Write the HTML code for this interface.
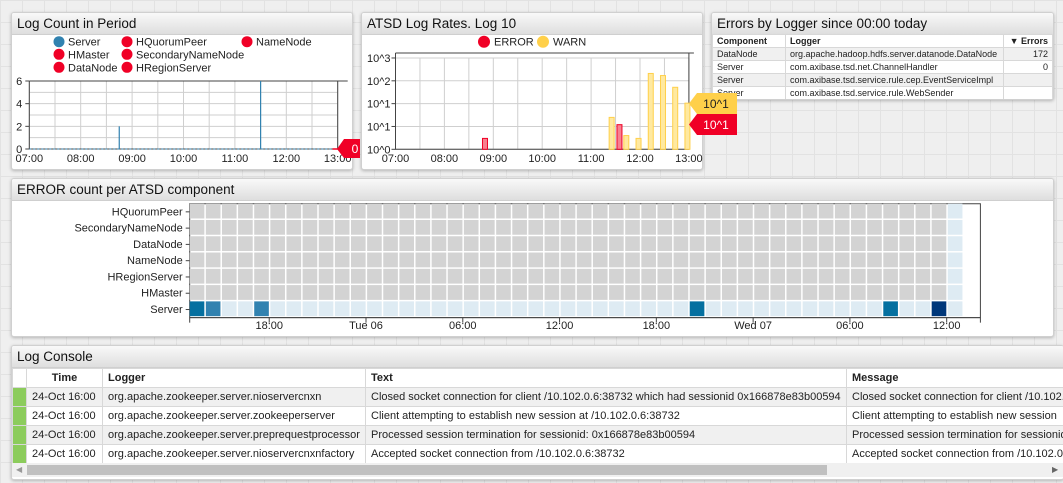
<!DOCTYPE html>
<html><head><meta charset="utf-8">
<style>
body{margin:0;width:1063px;height:483px;overflow:hidden;background:#efefef;font-family:"Liberation Sans",sans-serif;position:relative}
.bg{position:absolute;left:0;top:0;width:1063px;height:483px;background-image:linear-gradient(#e2e2e2 1px,transparent 1px),linear-gradient(90deg,#e2e2e2 1px,transparent 1px);background-size:22px 22px}
.panel{position:absolute;background:#fff;border:1px solid #d0d0d0;border-radius:3px;box-shadow:0 1px 3px rgba(0,0,0,.25);overflow:hidden}
.hdr{height:21px;background:linear-gradient(#f9f9f9,#dedede);border-bottom:1px solid #cfcfcf;font-size:13.5px;line-height:21px;padding-left:5px;color:#111}
table{border-collapse:collapse;position:absolute}
.et td{font-size:9px;height:12px;padding:0 4px;border:1px solid #d8d8d8;color:#222;white-space:nowrap}
.lt td{font-size:11px;height:18px;padding:0 5px;border:1px solid #d8d8d8;color:#222;white-space:nowrap}
svg text{font-family:"Liberation Sans",sans-serif}
</style></head><body>
<div class="bg"></div>
<div class="panel" style="left:11px;top:12px;width:340px;height:156px"><div class="hdr">Log Count in Period</div></div>
<div class="panel" style="left:361px;top:12px;width:340px;height:156px"><div class="hdr">ATSD Log Rates. Log 10</div></div>
<div class="panel" style="left:711px;top:12px;width:341px;height:86px"><div class="hdr">Errors by Logger since 00:00 today</div>
<table class="et" style="left:0;top:21px;width:341px">
<tr style="background:#fff;font-weight:bold"><td style="width:64px;font-weight:bold">Component</td><td style="font-weight:bold">Logger</td><td style="width:40px;text-align:right;font-weight:bold">▼ Errors</td></tr>
<tr style="background:#f0f0f0"><td>DataNode</td><td>org.apache.hadoop.hdfs.server.datanode.DataNode</td><td style="text-align:right">172</td></tr>
<tr style="background:#fff"><td>Server</td><td>com.axibase.tsd.net.ChannelHandler</td><td style="text-align:right">0</td></tr>
<tr style="background:#f0f0f0"><td>Server</td><td>com.axibase.tsd.service.rule.cep.EventServiceImpl</td><td></td></tr>
<tr style="background:#fff"><td>Server</td><td>com.axibase.tsd.service.rule.WebSender</td><td></td></tr>
</table></div>
<div class="panel" style="left:11px;top:178px;width:1041px;height:157px"><div class="hdr">ERROR count per ATSD component</div></div>
<div class="panel" style="left:11px;top:345px;width:1052px;height:133px;border-right:none"><div class="hdr">Log Console</div>
<table class="lt" style="left:0;top:22px;width:1100px;table-layout:fixed">
<colgroup><col style="width:14px"><col style="width:76px"><col style="width:263px"><col style="width:481px"><col style="width:266px"></colgroup>
<tr style="font-weight:bold"><td></td><td style="text-align:center;font-weight:bold">Time</td><td style="font-weight:bold">Logger</td><td style="font-weight:bold">Text</td><td style="font-weight:bold">Message</td></tr>
<tr style="background:#f0f0f0"><td style="background:#8ccc5c"></td><td>24-Oct 16:00</td><td>org.apache.zookeeper.server.nioservercnxn</td><td>Closed socket connection for client /10.102.0.6:38732 which had sessionid 0x166878e83b00594</td><td style="overflow:hidden">Closed socket connection for client /10.102.0.6:38732</td></tr>
<tr style="background:#fff"><td style="background:#8ccc5c"></td><td>24-Oct 16:00</td><td>org.apache.zookeeper.server.zookeeperserver</td><td>Client attempting to establish new session at /10.102.0.6:38732</td><td style="overflow:hidden">Client attempting to establish new session</td></tr>
<tr style="background:#f0f0f0"><td style="background:#8ccc5c"></td><td>24-Oct 16:00</td><td>org.apache.zookeeper.server.preprequestprocessor</td><td>Processed session termination for sessionid: 0x166878e83b00594</td><td style="overflow:hidden">Processed session termination for sessionid</td></tr>
<tr style="background:#fff"><td style="background:#8ccc5c"></td><td>24-Oct 16:00</td><td>org.apache.zookeeper.server.nioservercnxnfactory</td><td>Accepted socket connection from /10.102.0.6:38732</td><td style="overflow:hidden">Accepted socket connection from /10.102.0.6</td></tr>
</table>
<div style="position:absolute;left:0;top:117px;width:1052px;height:14px;background:#f0f0f0"><div style="position:absolute;left:15px;top:2px;width:800px;height:10px;background:#c0c0c0"></div><div style="position:absolute;left:4px;top:0;font-size:8px;color:#999;line-height:14px">◀</div><div style="position:absolute;left:1040px;top:0;font-size:8px;color:#666;line-height:14px">▶</div></div>
</div>
<svg id="ov" width="1063" height="483" style="position:absolute;left:0;top:0"></svg>
<script>
// Chart 1 data
const c1Ticks=[0,2,4,6];
const c1Hours=["07:00","08:00","09:00","10:00","11:00","12:00","13:00"];
const c1ServerTimes=[8.75,11.5];
const c1ServerValues=[2,6];
const c1Legend=["Server","HQuorumPeer","NameNode","HMaster","SecondaryNameNode","DataNode","HRegionServer"];
// Chart 2 data
const c2TickLabels=["10^0","10^1","10^1","10^2","10^3"];
const c2ErrorTimes=[8.83,11.58];
const c2ErrorValues=[3,12];
const c2WarnTimes=[11.42,11.72,11.97,12.22,12.47,12.72,12.97];
const c2WarnValues=[25,4,3,2100,1700,520,105];
// Heatmap data
const hmRows=["HQuorumPeer","SecondaryNameNode","DataNode","NameNode","HRegionServer","HMaster","Server"];
const hmServerCells=[3,2,0,0,2,0,0,0,0,0,0,0,0,0,0,0,0,0,0,0,0,0,0,0,0,0,0,0,0,0,0,3,0,0,0,0,0,0,0,0,0,0,0,3,0,0,4,0];
const hmTickLabels=["18:00","Tue 06","06:00","12:00","18:00","Wed 07","06:00","12:00"];
const hmTickHours=[18,24,30,36,42,48,54,60];

const svg=document.getElementById('ov');const NS="http://www.w3.org/2000/svg";
function mk(t,a,txt){const e=document.createElementNS(NS,t);for(const k in a)e.setAttribute(k,a[k]);if(txt!==undefined)e.textContent=txt;svg.appendChild(e);return e;}

// ---- Chart 1
const x1=h=>29.3+(h-7)*51.4, y1=v=>149-v*(68/6);
for(let h=7;h<=13;h+=0.5){const g=mk('line',{x1:x1(h),x2:x1(h),y1:81,y2:149,stroke:'#cfcfcf'});}
for(let v=1;v<=6;v++){const g=mk('line',{x1:x1(7),x2:x1(13),y1:y1(v),y2:y1(v),stroke:'#cfcfcf'});}
mk('path',{d:`M${x1(7)} 81V149H${x1(13)}V81`,fill:'none',stroke:'#444'});
mk('line',{x1:x1(7),x2:x1(13)+10,y1:81,y2:81,stroke:'#444'});
mk('line',{x1:x1(7),x2:x1(13),y1:149,y2:149,stroke:'#3182b0','stroke-dasharray':'2,2'});
mk('line',{x1:x1(12.9),x2:x1(13),y1:149,y2:149,stroke:'#f00020','stroke-width':1.5});
c1Ticks.forEach(v=>{const t=mk('text',{x:x1(7)-7,y:y1(v)+4,'font-size':11,'text-anchor':'end',fill:'#222'},v);mk('line',{x1:x1(7)-4,x2:x1(7),y1:y1(v),y2:y1(v),stroke:'#444'});});
c1Hours.forEach((l,i)=>{const t=mk('text',{x:x1(7+i),y:162,'font-size':11,'text-anchor':'middle',fill:'#222'},l);});
c1ServerTimes.forEach((h,i)=>{const b=mk('line',{x1:x1(h),x2:x1(h),y1:y1(c1ServerValues[i]),y2:149,stroke:'#3182b0','stroke-width':1.2});});
const lp=[[59,41.7],[127,41.7],[247,41.7],[59,54.3],[127,54.3],[59,67.3],[127,67.3]];
c1Legend.forEach((n,i)=>{const c=mk('circle',{cx:lp[i][0],cy:lp[i][1],r:5.5,fill:i==0?'#3182b0':'#f00026'});const t=mk('text',{x:lp[i][0]+9,y:lp[i][1]+4,'font-size':11,fill:'#222'},n);});
const tg1=mk('path',{d:'M337 149L344 139H360V158H344Z',fill:'#f00026'});
mk('text',{x:355,y:153,'font-size':12,fill:'#fff','text-anchor':'middle'},'0');

// ---- Chart 2
const x2=h=>395.5+(h-7)*48.9, y2=v=>149.3-Math.log10(v)*22.83;
for(let h=7;h<=13;h+=0.5)mk('line',{x1:x2(h),x2:x2(h),y1:58,y2:149.3,stroke:'#cfcfcf'});
c2TickLabels.forEach((l,i)=>{const yy=149.3-i*22.83;mk('line',{x1:x2(7),x2:x2(13),y1:yy,y2:yy,stroke:'#cfcfcf'});mk('line',{x1:x2(7)-4,x2:x2(7),y1:yy,y2:yy,stroke:'#444'});const t=mk('text',{x:x2(7)-5,y:yy+4,'font-size':11,'text-anchor':'end',fill:'#222'},l);});
mk('path',{d:`M${x2(7)} 53V149.3H${x2(13)}V53`,fill:'none',stroke:'#444'});
mk('line',{x1:x2(7),x2:x2(13)+5,y1:53,y2:53,stroke:'#444'});
c1Hours.forEach((l,i)=>{const t=mk('text',{x:x2(7+i),y:162,'font-size':11,'text-anchor':'middle',fill:'#222'},l);});
c2WarnTimes.forEach((h,i)=>{const y=y2(c2WarnValues[i]);const b=mk('rect',{x:x2(h)-2.5,y:y,width:5,height:149.3-y,fill:'#ffe9a0',stroke:'#ffd04a'});});
c2ErrorTimes.forEach((h,i)=>{const y=y2(c2ErrorValues[i]);const b=mk('rect',{x:x2(h)-2.5,y:y,width:5,height:149.3-y,fill:'#f7808f',stroke:'#f00026'});});
[[484,'#f00026','ERROR'],[543,'#ffd04a','WARN']].forEach(d=>{const c=mk('circle',{cx:d[0],cy:41.7,r:6,fill:d[1]});const t=mk('text',{x:d[0]+10,y:45.7,'font-size':11,fill:'#222'},d[2]);});
const tg2=mk('path',{d:'M689 103.5L697 93H737V114H697Z',fill:'#ffd04a'});
mk('text',{x:716,y:108,'font-size':12,fill:'#222','text-anchor':'middle'},'10^1');
const tg3=mk('path',{d:'M689 124.5L697 114H737V135H697Z',fill:'#f00026'});
mk('text',{x:716,y:129,'font-size':12,fill:'#fff','text-anchor':'middle'},'10^1');

// ---- Heatmap
const hx0=189.7,cw=16.13,hy0=203.7,rh=16.28,startH=13.07;
const hxh=h=>hx0+(h-startH)*cw;
const pal=['#deebf3','#9ecae1','#3182b0','#0570a0','#00377a'];
mk('path',{d:`M${hx0} ${hy0}V${hy0+7*rh}H980.4V${hy0}Z`,fill:'#fff',stroke:'#444'});
hmRows.forEach((r,ri)=>{
 for(let c=0;c<hmServerCells.length;c++){
  let col;if(c==hmServerCells.length-1)col=pal[0];else if(r=="Server")col=pal[hmServerCells[c]];else col='#d3d3d3';
  const e=mk('rect',{x:hx0+c*cw,y:hy0+ri*rh,width:cw-1.5,height:rh-1.5,fill:col});
  
  
 }
 const t=mk('text',{x:hx0-7,y:hy0+ri*rh+rh/2+3.5,'font-size':11,'text-anchor':'end',fill:'#222'},r);
 
 
 mk('line',{x1:hx0-4,x2:hx0,y1:hy0+ri*rh+rh/2,y2:hy0+ri*rh+rh/2,stroke:'#444'});
});
mk('line',{x1:hx0,x2:980.4,y1:hy0+7*rh,y2:hy0+7*rh,stroke:'#444'});
mk('line',{x1:hx0,x2:hx0,y1:hy0+7*rh,y2:hy0+7*rh+5,stroke:'#444'});
mk('line',{x1:980.4,x2:980.4,y1:hy0+7*rh,y2:hy0+7*rh+5,stroke:'#444'});
hmTickLabels.forEach((l,i)=>{const x=hxh(hmTickHours[i]);mk('line',{x1:x,x2:x,y1:hy0+7*rh,y2:hy0+7*rh+5,stroke:'#444'});const t=mk('text',{x:x,y:329,'font-size':11,'text-anchor':'middle',fill:'#222'},l);});
</script>
</body></html>
